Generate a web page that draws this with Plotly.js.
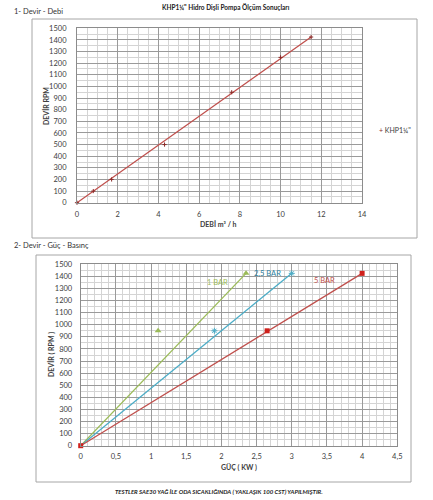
<!DOCTYPE html>
<html><head><meta charset="utf-8">
<script src="https://cdn.plot.ly/plotly-3.0.1.min.js"></script>
<style>html,body{margin:0;padding:0;background:#fff;overflow:hidden;width:433px;height:500px}#c{display:block}</style>
</head><body><div id="c" style="width:433px;height:500px"></div>
<script>
// Chart 1 : Devir - Debi
const debiX = [0, 0.8, 1.7, 4.3, 7.6, 10, 11.5];
const debiRpm = [0, 100, 200, 500, 950, 1250, 1425];
const debiFitX = [0, 11.5];
const debiFitRpm = [0, 1425];
const debiName = 'KHP1¼"';

// Chart 2 : Devir - Güç - Basınç
const bar1Guc = [1.1, 2.35];
const bar1Rpm = [950, 1425];
const bar1FitGuc = [0, 2.35];
const bar1FitRpm = [0, 1425];
const bar25Guc = [1.9, 3];
const bar25Rpm = [950, 1425];
const bar25FitGuc = [0, 3];
const bar25FitRpm = [0, 1425];
const bar5Guc = [0, 2.65, 4];
const bar5Rpm = [0, 950, 1425];
const bar5FitGuc = [0, 4];
const bar5FitRpm = [0, 1425];
const seriesLabels = ['1 BAR', '2,5 BAR', '5 BAR'];

const W = 433, H = 500;
const px = x => x / W, py = y => 1 - y / H;
const FONT = 'Lato, "Liberation Sans", sans-serif';
const RED = '#C0504D', GREEN = '#9BBB59', BLUE = '#4BACC6', DARKRED = '#8B2A27';

const traces = [
  {x: debiFitX, y: debiFitRpm, xaxis: 'x', yaxis: 'y', mode: 'lines', line: {color: RED, width: 1.3}, showlegend: false, hoverinfo: 'skip'},
  {x: debiX, y: debiRpm, xaxis: 'x', yaxis: 'y', mode: 'markers', name: debiName,
   marker: {symbol: 'cross-thin-open', size: 3, color: DARKRED, line: {color: DARKRED, width: 1}}, cliponaxis: false, showlegend: false},

  {x: bar1FitGuc, y: bar1FitRpm, xaxis: 'x2', yaxis: 'y2', mode: 'lines', line: {color: GREEN, width: 1.3}, showlegend: false},
  {x: bar25FitGuc, y: bar25FitRpm, xaxis: 'x2', yaxis: 'y2', mode: 'lines', line: {color: BLUE, width: 1.3}, showlegend: false},
  {x: bar5FitGuc, y: bar5FitRpm, xaxis: 'x2', yaxis: 'y2', mode: 'lines', line: {color: RED, width: 1.3}, showlegend: false},
  {x: bar1Guc, y: bar1Rpm, xaxis: 'x2', yaxis: 'y2', mode: 'markers', name: seriesLabels[0],
   marker: {symbol: 'triangle-up', size: 6, color: GREEN}, cliponaxis: false, showlegend: false},
  {x: bar25Guc, y: bar25Rpm, xaxis: 'x2', yaxis: 'y2', mode: 'markers', name: seriesLabels[1],
   marker: {symbol: 'asterisk-open', size: 5, color: BLUE, line: {color: BLUE, width: 1}}, cliponaxis: false, showlegend: false},
  {x: bar5Guc, y: bar5Rpm, xaxis: 'x2', yaxis: 'y2', mode: 'markers', name: seriesLabels[2],
   marker: {symbol: 'square', size: 5, color: '#D0211C'}, cliponaxis: false, showlegend: false}
];

const tickfont = {family: FONT, size: 7.5, color: '#404040'};
const axBase = {
  showline: true, linecolor: '#8c8c8c', linewidth: 1, mirror: true,
  gridcolor: '#9a9a9a', gridwidth: 1, zeroline: false, ticks: '',
  tickfont: tickfont, fixedrange: true
};

const layout = {
  width: W, height: H,
  margin: {l: 0, r: 0, t: 0, b: 0},
  paper_bgcolor: '#fff', plot_bgcolor: '#fff',
  separators: ',.',
  font: {family: FONT},
  showlegend: false,
  xaxis: Object.assign({}, axBase, {domain: [px(77), px(362)], range: [0, 14], dtick: 2, tick0: 0, anchor: 'y',
    ticklabelstandoff: 4, minor: {dtick: 0.5, showgrid: true, gridcolor: '#d4d4d4', gridwidth: 1}}),
  yaxis: Object.assign({}, axBase, {domain: [py(202.7), py(28.3)], range: [0, 1500], dtick: 100, tick0: 0, anchor: 'x',
    ticklabelstandoff: 8, minor: {dtick: 50, showgrid: true, gridcolor: '#d4d4d4', gridwidth: 1}}),
  xaxis2: Object.assign({}, axBase, {domain: [px(80.7), px(397.3)], range: [0, 4.5], dtick: 0.5, tick0: 0, anchor: 'y2',
    ticklabelstandoff: 3, minor: {dtick: 0.1, showgrid: true, gridcolor: '#d4d4d4', gridwidth: 1}}),
  yaxis2: Object.assign({}, axBase, {domain: [py(445.7), py(264.3)], range: [0, 1500], dtick: 100, tick0: 0, anchor: 'x2',
    ticklabelstandoff: 6, minor: {dtick: 50, showgrid: true, gridcolor: '#d4d4d4', gridwidth: 1}}),
  shapes: [
    {type: 'rect', xref: 'paper', yref: 'paper', x0: px(32), x1: px(417), y0: py(238), y1: py(19), line: {color: '#a6a6a6', width: 1}},
    {type: 'rect', xref: 'paper', yref: 'paper', x0: px(36), x1: px(411), y0: py(482), y1: py(255), line: {color: '#a6a6a6', width: 1}}
  ],
  annotations: [
    {text: '<b>KHP1¼" Hidro Dişli Pompa Ölçüm Sonuçları</b>', xref: 'paper', yref: 'paper', x: px(226), y: py(0.5), xanchor: 'center', yanchor: 'top',
     showarrow: false, font: {family: FONT, size: 6.5, color: '#222'}},
    {text: '1- Devir - Debi', xref: 'paper', yref: 'paper', x: px(12), y: py(11), xanchor: 'left', yanchor: 'middle',
     showarrow: false, font: {family: FONT, size: 7.5, color: '#333'}},
    {text: '2- Devir - Güç - Basınç', xref: 'paper', yref: 'paper', x: px(12), y: py(245), xanchor: 'left', yanchor: 'middle',
     showarrow: false, font: {family: FONT, size: 7.5, color: '#333'}},
    {text: '<span style="color:' + DARKRED + '">+</span> ' + debiName, xref: 'paper', yref: 'paper', x: px(377), y: py(130), xanchor: 'left', yanchor: 'middle',
     showarrow: false, font: {family: FONT, size: 7, color: '#404040'}},
    {text: '<b>DEVİR RPM</b>', xref: 'paper', yref: 'paper', x: px(46), y: py(106), xanchor: 'center', yanchor: 'middle', textangle: -90,
     showarrow: false, font: {family: FONT, size: 7, color: '#404040'}},
    {text: '<b>DEBİ m³ / h</b>', xref: 'paper', yref: 'paper', x: px(218), y: py(224), xanchor: 'center', yanchor: 'middle',
     showarrow: false, font: {family: FONT, size: 7, color: '#404040'}},
    {text: '<b>DEVİR ( RPM )</b>', xref: 'paper', yref: 'paper', x: px(51), y: py(355), xanchor: 'center', yanchor: 'middle', textangle: -90,
     showarrow: false, font: {family: FONT, size: 7, color: '#404040'}},
    {text: '<b>GÜÇ ( KW )</b>', xref: 'paper', yref: 'paper', x: px(239), y: py(467), xanchor: 'center', yanchor: 'middle',
     showarrow: false, font: {family: FONT, size: 7, color: '#404040'}},
    {text: seriesLabels[0], xref: 'x2', yref: 'y2', x: 1.94, y: 1353, showarrow: false, font: {family: FONT, size: 7.5, color: GREEN}},
    {text: seriesLabels[1], xref: 'x2', yref: 'y2', x: 2.66, y: 1427, showarrow: false, font: {family: FONT, size: 7.5, color: '#2E7FA0'}},
    {text: seriesLabels[2], xref: 'x2', yref: 'y2', x: 3.47, y: 1364, showarrow: false, font: {family: FONT, size: 7.5, color: RED}},
    {text: '<b><i>TESTLER SAE30 YAĞ İLE ODA SICAKLIĞINDA ( YAKLAŞIK 100 CST) YAPILMIŞTIR.</i></b>', xref: 'paper', yref: 'paper',
     x: px(219), y: py(491), xanchor: 'center', yanchor: 'middle', showarrow: false, font: {family: FONT, size: 6, color: '#222'}}
  ]
};

Plotly.newPlot('c', traces, layout, {staticPlot: true, displayModeBar: false});
</script></body></html>
